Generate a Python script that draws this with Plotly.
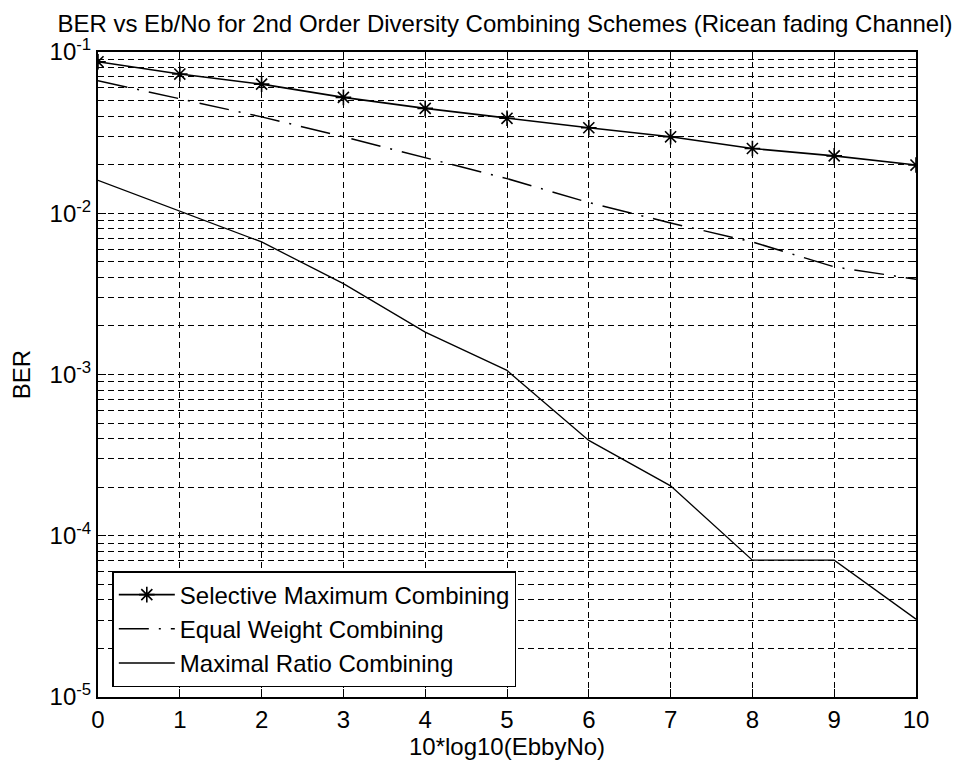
import plotly.graph_objects as go

x_db = [0, 1, 2, 3, 4, 5, 6, 7, 8, 9, 10]
ber_smc = [0.087, 0.073, 0.0632, 0.0523, 0.0447, 0.0388, 0.0339, 0.0298, 0.0252, 0.0227, 0.0199]
ber_ewc = [0.0664, 0.0513, 0.0396, 0.0298, 0.0222, 0.0164, 0.01165, 0.0087, 0.00664, 0.00465, 0.0039]
ber_mrc = [0.016, 0.0103, 0.00664, 0.00366, 0.00183, 0.00106, 0.00039, 0.000204, 7.06e-05, 7.06e-05, 3.04e-05]

names = ["Selective Maximum Combining", "Equal Weight Combining", "Maximal Ratio Combining"]
y_tickvals = [1e-5, 1e-4, 1e-3, 1e-2, 1e-1]
y_ticktext = ["10<sup>-5</sup>", "10<sup>-4</sup>", "10<sup>-3</sup>", "10<sup>-2</sup>", "10<sup>-1</sup>"]
x_tickvals = list(range(0, 11))

FONT = "Liberation Sans, Arial, sans-serif"

fig = go.Figure()
fig.add_trace(go.Scatter(
    x=x_db, y=ber_smc, name=names[0], mode="lines+markers",
    line=dict(color="black", width=1.6),
    marker=dict(symbol="asterisk-open", size=13, color="black", line=dict(color="black", width=1.6)),
))
fig.add_trace(go.Scatter(
    x=x_db, y=ber_ewc, name=names[1], mode="lines",
    line=dict(color="black", width=1.5, dash="30px,10px,2px,10px"),
))
fig.add_trace(go.Scatter(
    x=x_db, y=ber_mrc, name=names[2], mode="lines",
    line=dict(color="black", width=1.3),
))

fig.update_layout(
    width=955, height=761,
    margin=dict(l=90, r=47, t=44, b=72, autoexpand=False),
    paper_bgcolor="white", plot_bgcolor="white",
    font=dict(family=FONT, size=24, color="black"),
    title=dict(
        text="BER vs Eb/No for 2nd Order Diversity Combining Schemes (Ricean fading Channel)",
        x=0.5204, xanchor="center", y=0.980, yanchor="middle",
        font=dict(family=FONT, size=24, color="black"),
    ),
    showlegend=True,
    legend=dict(
        x=0.0175, y=0.0155, xanchor="left", yanchor="bottom",
        bgcolor="white", bordercolor="black", borderwidth=1.5,
        font=dict(family=FONT, size=24, color="black"),
        itemwidth=56, tracegroupgap=0,
    ),
)

fig.update_xaxes(
    range=[0, 10], tickvals=x_tickvals, ticks="inside", ticklen=8, tickcolor="black",
    showline=True, linecolor="black", linewidth=2, mirror="allticks",
    showgrid=True, gridcolor="black", gridwidth=1, griddash="6px,4px",
    zeroline=False, automargin=False,
    title=dict(text="10*log10(EbbyNo)", standoff=6, font=dict(family=FONT, size=24)),
    tickfont=dict(family=FONT, size=24),
)
fig.update_yaxes(
    type="log", range=[-5, -1], tickvals=y_tickvals, ticktext=y_ticktext,
    ticks="inside", ticklen=8, tickcolor="black",
    showline=True, linecolor="black", linewidth=2, mirror="allticks",
    showgrid=True, gridcolor="black", gridwidth=1, griddash="6px,4px",
    zeroline=False, automargin=False,
    minor=dict(dtick="D1", ticks="inside", ticklen=5, tickcolor="black",
               showgrid=True, gridcolor="black", gridwidth=1, griddash="6px,4px"),
    title=dict(text="BER", standoff=14, font=dict(family=FONT, size=24)),
    tickfont=dict(family=FONT, size=24),
)

fig.write_html("out.html")
